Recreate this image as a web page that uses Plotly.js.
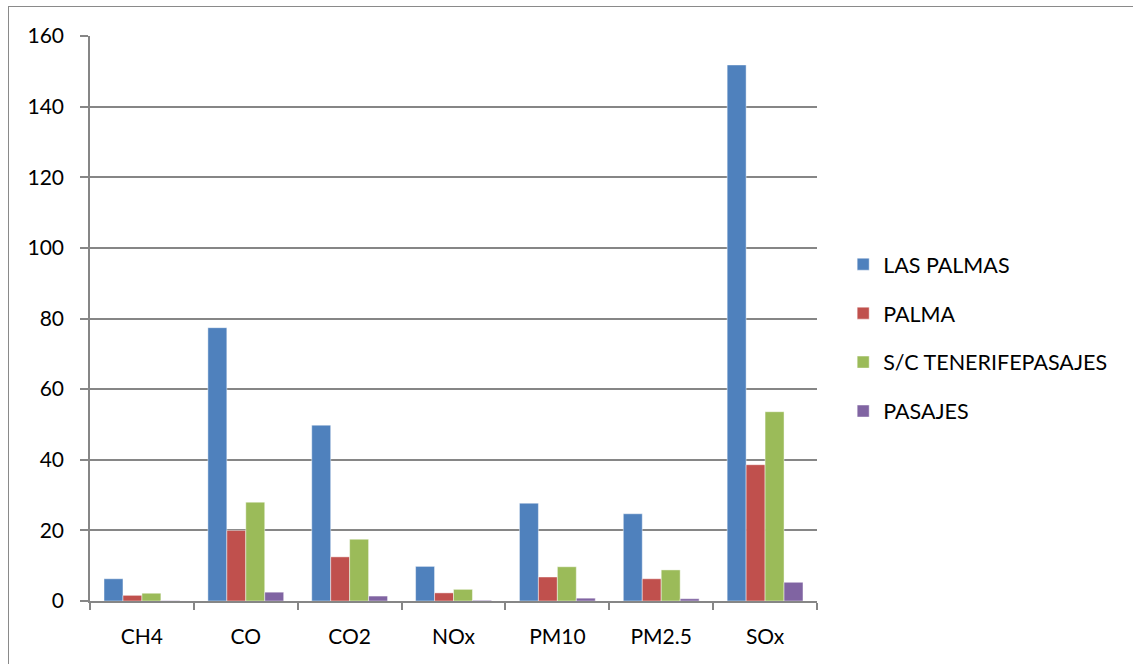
<!DOCTYPE html>
<html>
<head>
<meta charset="utf-8">
<script src="https://cdn.plot.ly/plotly-3.0.1.min.js"></script>
<style>
  html, body { margin: 0; padding: 0; background: #fff; }
  #wrap { position: relative; width: 1133px; height: 664px; }
  #chart { width: 1133px; height: 664px; }
  #frame { position: absolute; left: 8px; top: 6px; width: 1130px; height: 670px;
           border: 1.5px solid #8a8a8a; pointer-events: none; box-sizing: border-box; }
</style>
</head>
<body>
<div id="wrap">
  <div id="chart"></div>
  <div id="frame"></div>
</div>
<script>
const categories = ["CH4", "CO", "CO2", "NOx", "PM10", "PM2.5", "SOx"];
const lasPalmas = [6.3, 77.4, 49.8, 9.8, 27.7, 24.7, 151.8];
const palma = [1.6, 20.0, 12.5, 2.3, 6.8, 6.3, 38.6];
const tenerife = [2.2, 28.0, 17.5, 3.3, 9.7, 8.8, 53.6];
const pasajes = [0.1, 2.5, 1.4, 0.2, 0.8, 0.65, 5.3];
const seriesNames = ["LAS PALMAS", "PALMA", "S/C TENERIFEPASAJES", "PASAJES"];
const seriesColors = ["#4F81BD", "#C0504D", "#9BBB59", "#8064A2"];
const yTicks = [0, 20, 40, 60, 80, 100, 120, 140, 160];

const seriesValues = [lasPalmas, palma, tenerife, pasajes];
const traces = seriesValues.map((vals, i) => ({
  type: "bar",
  name: seriesNames[i],
  x: categories,
  y: vals,
  legendgroup: "g" + i,
  marker: { color: seriesColors[i], line: { color: "rgba(255,255,255,0.45)", width: 1 } },
  hoverinfo: "x+y+name"
}));

const font = "Lato, 'Open Sans', sans-serif";
const layout = {
  width: 1133, height: 664,
  margin: { l: 90, r: 316, t: 36, b: 63 },
  paper_bgcolor: "#ffffff", plot_bgcolor: "#ffffff",
  barmode: "group", bargap: 0.27, bargroupgap: 0,
  font: { family: font, size: 21, color: "#000" },
  showlegend: true,
  legend: {
    x: 1.036, xanchor: "left", y: 0.466, yanchor: "middle",
    traceorder: "grouped", tracegroupgap: 18,
    font: { family: font, size: 21.5, color: "#000" },
    bgcolor: "rgba(0,0,0,0)"
  },
  xaxis: {
    type: "category",
    showline: true, linecolor: "#868686", linewidth: 1.5,
    ticks: "outside", tickson: "boundaries", ticklen: 7, tickcolor: "#868686", tickwidth: 1.5,
    showgrid: false, zeroline: false,
    tickfont: { family: font, size: 21, color: "#000" },
    ticklabelstandoff: 16
  },
  yaxis: {
    range: [0, 160],
    tickvals: yTicks, ticktext: yTicks.map(String),
    showline: true, linecolor: "#868686", linewidth: 1.5,
    ticks: "outside", ticklen: 8, tickcolor: "#868686", tickwidth: 1.5,
    showgrid: true, gridcolor: "#868686", gridwidth: 1.5,
    zeroline: false,
    tickfont: { family: font, size: 21, color: "#000" },
    ticklabelstandoff: 12
  }
};

Plotly.newPlot("chart", traces, layout, { displayModeBar: false, staticPlot: false });
</script>
</body>
</html>
